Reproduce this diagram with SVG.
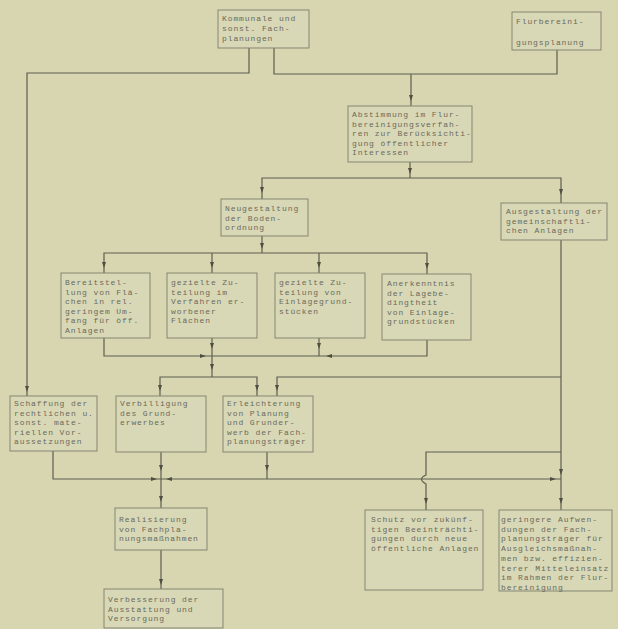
<svg xmlns="http://www.w3.org/2000/svg" width="618" height="629" viewBox="0 0 618 629">
<style>
.bg{fill:#d7d6b1}
.box{fill:#d9d8b6;stroke:#858572;stroke-width:1}
.t{font-family:"Liberation Mono",monospace;font-size:8px;letter-spacing:0.9px;fill:#6a6a5c}
.c{fill:none;stroke:#5e5e50;stroke-width:1.2}
.a{fill:#4e4e42}
</style>
<defs>
<path id="ad" d="M0,0 L-2,-6 L2,-6 Z"/>
</defs>
<rect class="bg" x="0" y="0" width="618" height="629"/>

<g id="connectors">
<path class="c" d="M249,48 V73 H27 V396"/>
<path class="c" d="M274,48 V74 H557 V50"/>
<path class="c" d="M411,74 V106"/>
<path class="c" d="M410,162 V178"/>
<path class="c" d="M262,199 V178 H561 V203"/>
<path class="c" d="M262,236 V253"/>
<path class="c" d="M104,273 V253 H427 V274"/>
<path class="c" d="M212,253 V273"/>
<path class="c" d="M319,253 V273"/>
<path class="c" d="M104,338 V356 H427 V340"/>
<path class="c" d="M212,338 V377"/>
<path class="c" d="M319,338 V356"/>
<path class="c" d="M160,396 V377 H257 V396"/>
<path class="c" d="M561,240 V510"/>
<path class="c" d="M561,377 H277 V396"/>
<path class="c" d="M53,451 V479 H561"/>
<path class="c" d="M161,452 V479"/>
<path class="c" d="M267,452 V479"/>
<path class="c" d="M161,479 V508"/>
<path class="c" d="M161,550 V589"/>
<path class="c" d="M561,452 H426 V475 Q417,479 426,484 V510"/>
<g class="a">
<use href="#ad" x="411" y="101"/>
<use href="#ad" x="410" y="174"/>
<use href="#ad" x="262" y="193"/>
<use href="#ad" x="561" y="195"/>
<use href="#ad" x="262" y="249"/>
<use href="#ad" x="104" y="268"/>
<use href="#ad" x="212" y="268"/>
<use href="#ad" x="319" y="268"/>
<use href="#ad" x="427" y="269"/>
<use href="#ad" x="212" y="349"/>
<use href="#ad" x="319" y="349"/>
<use href="#ad" transform="translate(206,356) rotate(-90)"/>
<use href="#ad" transform="translate(326,356) rotate(90)"/>
<use href="#ad" x="212" y="370"/>
<use href="#ad" x="160" y="391"/>
<use href="#ad" x="257" y="391"/>
<use href="#ad" x="277" y="391"/>
<use href="#ad" x="27" y="392"/>
<use href="#ad" x="161" y="471"/>
<use href="#ad" x="267" y="471"/>
<use href="#ad" transform="translate(157,479) rotate(-90)"/>
<use href="#ad" transform="translate(166,479) rotate(90)"/>
<use href="#ad" x="161" y="502"/>
<use href="#ad" x="161" y="585"/>
<use href="#ad" x="426" y="504"/>
<use href="#ad" x="561" y="475"/>
<use href="#ad" x="561" y="504"/>
<use href="#ad" transform="translate(556,479) rotate(-90)"/>
</g>
</g>

<g id="kommunale">
<rect class="box" x="218" y="10" width="91" height="38"/>
<text class="t" x="222" y="21">Kommunale und</text>
<text class="t" x="222" y="31">sonst. Fach-</text>
<text class="t" x="222" y="41">planungen</text>
</g>
<g id="flurplanung">
<rect class="box" x="512" y="12" width="89" height="38"/>
<text class="t" x="516" y="24">Flurbereini-</text>
<text class="t" x="516" y="45">gungsplanung</text>
</g>
<g id="abstimmung">
<rect class="box" x="348" y="106" width="124" height="56"/>
<text class="t" x="352" y="117">Abstimmung im Flur-</text>
<text class="t" x="352" y="126.5">bereinigungsverfah-</text>
<text class="t" x="352" y="136">ren zur Berücksichti-</text>
<text class="t" x="352" y="145.5">gung öffentlicher</text>
<text class="t" x="352" y="155">Interessen</text>
</g>
<g id="neugestaltung">
<rect class="box" x="221" y="199" width="87" height="37"/>
<text class="t" x="225" y="211">Neugestaltung</text>
<text class="t" x="225" y="220.5">der Boden-</text>
<text class="t" x="225" y="230">ordnung</text>
</g>
<g id="ausgestaltung">
<rect class="box" x="501" y="203" width="106" height="37"/>
<text class="t" x="506" y="214">Ausgestaltung der</text>
<text class="t" x="506" y="223.5">gemeinschaftli-</text>
<text class="t" x="506" y="233">chen Anlagen</text>
</g>
<g id="bereitstellung">
<rect class="box" x="61" y="273" width="89" height="65"/>
<text class="t" x="65" y="285">Bereitstel-</text>
<text class="t" x="65" y="294.6">lung von Flä-</text>
<text class="t" x="65" y="304.2">chen in rel.</text>
<text class="t" x="65" y="313.8">geringem Um-</text>
<text class="t" x="65" y="323.4">fang für öff.</text>
<text class="t" x="65" y="333">Anlagen</text>
</g>
<g id="zuteilung-verfahren">
<rect class="box" x="167" y="273" width="90" height="65"/>
<text class="t" x="171" y="285">gezielte Zu-</text>
<text class="t" x="171" y="294.6">teilung im</text>
<text class="t" x="171" y="304.2">Verfahren er-</text>
<text class="t" x="171" y="313.8">worbener</text>
<text class="t" x="171" y="323.4">Flächen</text>
</g>
<g id="zuteilung-einlage">
<rect class="box" x="275" y="273" width="90" height="65"/>
<text class="t" x="279" y="285">gezielte Zu-</text>
<text class="t" x="279" y="294.6">teilung von</text>
<text class="t" x="279" y="304.2">Einlagegrund-</text>
<text class="t" x="279" y="313.8">stücken</text>
</g>
<g id="anerkenntnis">
<rect class="box" x="382" y="274" width="89" height="66"/>
<text class="t" x="387" y="286">Anerkenntnis</text>
<text class="t" x="387" y="295.6">der Lagebe-</text>
<text class="t" x="387" y="305.2">dingtheit</text>
<text class="t" x="387" y="314.8">von Einlage-</text>
<text class="t" x="387" y="324.4">grundstücken</text>
</g>
<g id="schaffung">
<rect class="box" x="10" y="396" width="87" height="55"/>
<text class="t" x="14" y="406">Schaffung der</text>
<text class="t" x="14" y="415.5">rechtlichen u.</text>
<text class="t" x="14" y="425">sonst. mate-</text>
<text class="t" x="14" y="434.5">riellen Vor-</text>
<text class="t" x="14" y="444">aussetzungen</text>
</g>
<g id="verbilligung">
<rect class="box" x="116" y="396" width="90" height="56"/>
<text class="t" x="120" y="406">Verbilligung</text>
<text class="t" x="120" y="415.5">des Grund-</text>
<text class="t" x="120" y="425">erwerbes</text>
</g>
<g id="erleichterung">
<rect class="box" x="223" y="396" width="90" height="56"/>
<text class="t" x="227" y="406">Erleichterung</text>
<text class="t" x="227" y="415.5">von Planung</text>
<text class="t" x="227" y="425">und Grunder-</text>
<text class="t" x="227" y="434.5">werb der Fach-</text>
<text class="t" x="227" y="444">planungsträger</text>
</g>
<g id="realisierung">
<rect class="box" x="115" y="508" width="92" height="42"/>
<text class="t" x="119" y="522">Realisierung</text>
<text class="t" x="119" y="531.5">von Fachpla-</text>
<text class="t" x="119" y="541">nungsmaßnahmen</text>
</g>
<g id="verbesserung">
<rect class="box" x="104" y="589" width="119" height="39"/>
<text class="t" x="108" y="602">Verbesserung der</text>
<text class="t" x="108" y="611.5">Ausstattung und</text>
<text class="t" x="108" y="621">Versorgung</text>
</g>
<g id="schutz">
<rect class="box" x="365" y="510" width="118" height="80"/>
<text class="t" x="371" y="522">Schutz vor zukünf-</text>
<text class="t" x="371" y="531.7">tigen Beeinträchti-</text>
<text class="t" x="371" y="541.4">gungen durch neue</text>
<text class="t" x="371" y="551.1">öffentliche Anlagen</text>
</g>
<g id="geringere">
<rect class="box" x="499" y="510" width="113" height="81"/>
<text class="t" x="501" y="522">geringere Aufwen-</text>
<text class="t" x="501" y="531.7">dungen der Fach-</text>
<text class="t" x="501" y="541.4">planungsträger für</text>
<text class="t" x="501" y="551.1">Ausgleichsmaßnah-</text>
<text class="t" x="501" y="560.8">men bzw. effizien-</text>
<text class="t" x="501" y="570.5">terer Mitteleinsatz</text>
<text class="t" x="501" y="580.2">im Rahmen der Flur-</text>
<text class="t" x="501" y="589.9">bereinigung</text>
</g>
</svg>
